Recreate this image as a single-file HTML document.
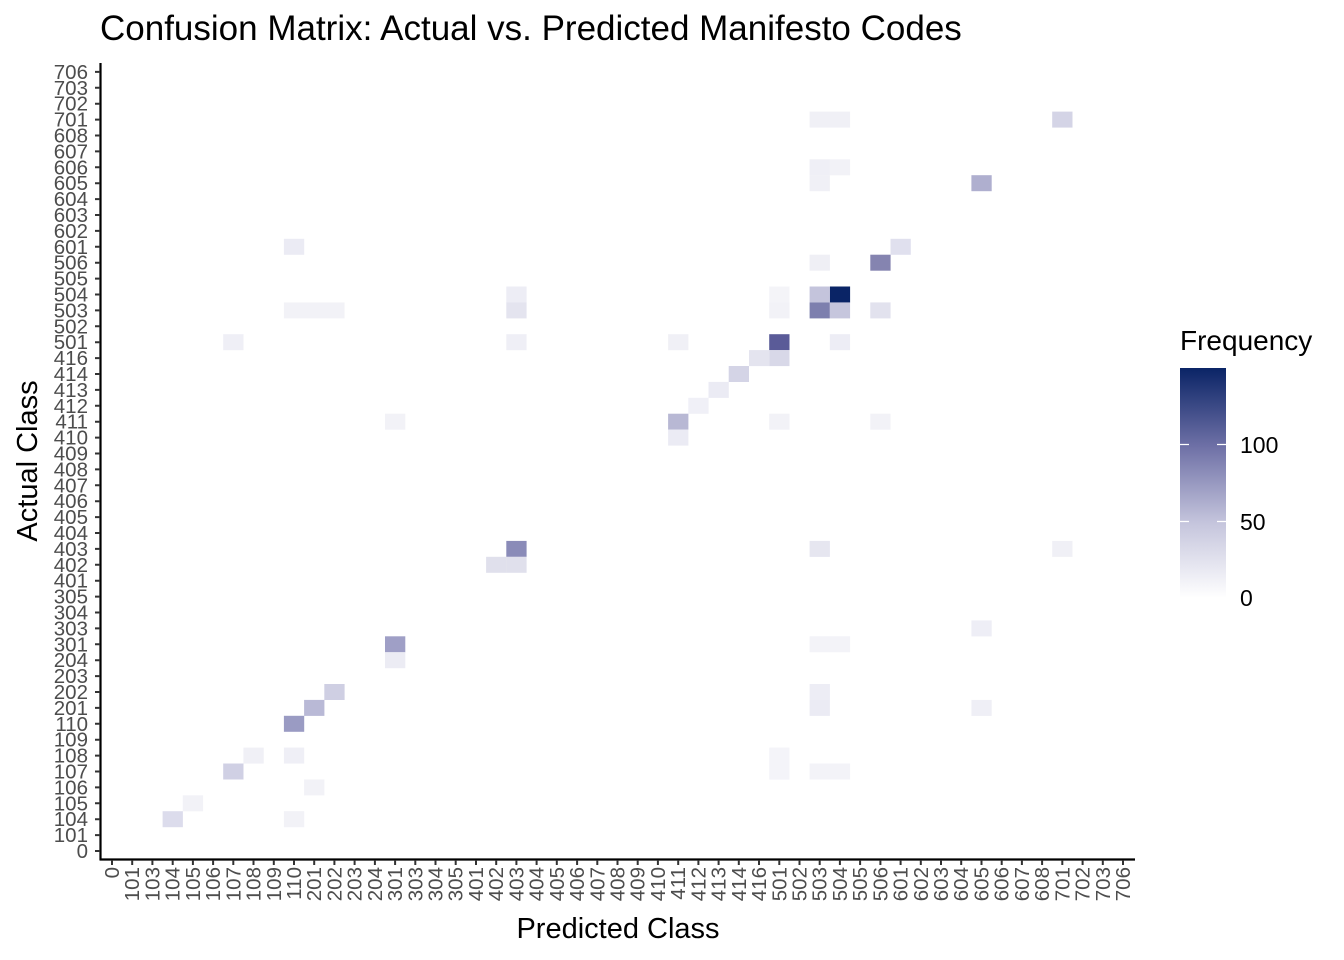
<!DOCTYPE html>
<html><head><meta charset="utf-8"><style>
html,body{margin:0;padding:0;background:#fff;}
svg{display:block;font-family:"Liberation Sans",sans-serif;}
.yl{font-size:20.5px;fill:#4d4d4d;text-anchor:end;}
.xl{font-size:20.5px;fill:#4d4d4d;text-anchor:end;}
</style></head><body>
<svg width="1344" height="960" viewBox="0 0 1344 960" xmlns="http://www.w3.org/2000/svg">
<defs><linearGradient id="g" x1="0" y1="1" x2="0" y2="0">
<stop offset="0" stop-color="#ffffff"/><stop offset="0.33" stop-color="#c4c4dc"/><stop offset="0.66" stop-color="#6e70a6"/><stop offset="1" stop-color="#0a2466"/></linearGradient></defs>
<text x="100" y="40" font-size="35" fill="#000">Confusion Matrix: Actual vs. Predicted Manifesto Codes</text>
<g stroke="none">
<rect x="829.8" y="286.5" width="20.3" height="16" fill="#0a2466"/>
<rect x="809.6" y="302.4" width="20.3" height="16" fill="#7d7fae"/>
<rect x="829.8" y="302.4" width="20.3" height="16" fill="#c6c6dd"/>
<rect x="809.6" y="286.5" width="20.3" height="16" fill="#c4c4dc"/>
<rect x="870.3" y="254.7" width="20.3" height="16" fill="#8584b0"/>
<rect x="769.2" y="334.2" width="20.3" height="16" fill="#5a5b98"/>
<rect x="769.2" y="350.1" width="20.3" height="16" fill="#d8d8e8"/>
<rect x="749" y="350.1" width="20.3" height="16" fill="#e4e4ef"/>
<rect x="728.7" y="366" width="20.3" height="16" fill="#d4d4e6"/>
<rect x="708.5" y="381.9" width="20.3" height="16" fill="#ebebf4"/>
<rect x="688.3" y="397.8" width="20.3" height="16" fill="#f0f0f7"/>
<rect x="668.1" y="413.7" width="20.3" height="16" fill="#b8b8d4"/>
<rect x="668.1" y="429.6" width="20.3" height="16" fill="#ebebf4"/>
<rect x="506.3" y="540.9" width="20.3" height="16" fill="#8a8bb8"/>
<rect x="486.1" y="556.8" width="20.3" height="16" fill="#e0e0ec"/>
<rect x="506.3" y="556.8" width="20.3" height="16" fill="#e0e0ec"/>
<rect x="385" y="636.3" width="20.3" height="16" fill="#9f9fc6"/>
<rect x="385" y="652.2" width="20.3" height="16" fill="#ececf4"/>
<rect x="324.3" y="684" width="20.3" height="16" fill="#cfcfe3"/>
<rect x="304.1" y="699.9" width="20.3" height="16" fill="#b9b9d6"/>
<rect x="283.9" y="715.8" width="20.3" height="16" fill="#9a9bc3"/>
<rect x="223.2" y="763.5" width="20.3" height="16" fill="#d0d0e4"/>
<rect x="162.6" y="811.2" width="20.3" height="16" fill="#dcdcec"/>
<rect x="971.4" y="175.2" width="20.3" height="16" fill="#afafcf"/>
<rect x="1052.2" y="111.6" width="20.3" height="16" fill="#d4d4e6"/>
<rect x="890.5" y="238.8" width="20.3" height="16" fill="#e0e0ee"/>
<rect x="870.3" y="302.4" width="20.3" height="16" fill="#e2e2ee"/>
<rect x="809.6" y="254.7" width="20.3" height="16" fill="#efeff5"/>
<rect x="283.9" y="238.8" width="20.3" height="16" fill="#ebebf4"/>
<rect x="506.3" y="286.5" width="20.3" height="16" fill="#ededf5"/>
<rect x="506.3" y="302.4" width="20.3" height="16" fill="#e4e4ef"/>
<rect x="506.3" y="334.2" width="20.3" height="16" fill="#efeff6"/>
<rect x="809.6" y="540.9" width="20.3" height="16" fill="#e6e6f0"/>
<rect x="223.2" y="334.2" width="20.3" height="16" fill="#efeff6"/>
<rect x="809.6" y="699.9" width="20.3" height="16" fill="#ebebf4"/>
<rect x="809.6" y="684" width="20.3" height="16" fill="#ededf5"/>
<rect x="971.4" y="620.4" width="20.3" height="16" fill="#eeeef6"/>
<rect x="971.4" y="699.9" width="20.3" height="16" fill="#efeff6"/>
<rect x="283.9" y="747.6" width="20.3" height="16" fill="#efeff6"/>
<rect x="243.4" y="747.6" width="20.3" height="16" fill="#f0f0f6"/>
<rect x="304.1" y="779.4" width="20.3" height="16" fill="#f2f2f7"/>
<rect x="182.8" y="795.3" width="20.3" height="16" fill="#f2f2f7"/>
<rect x="809.6" y="111.6" width="40.5" height="16" fill="#f0f0f6"/>
<rect x="809.6" y="175.2" width="20.3" height="16" fill="#f0f0f6"/>
<rect x="809.6" y="159.3" width="20.3" height="16" fill="#efeff6"/>
<rect x="829.8" y="159.3" width="20.3" height="16" fill="#f2f2f7"/>
<rect x="385" y="413.7" width="20.3" height="16" fill="#f2f2f7"/>
<rect x="769.2" y="413.7" width="20.3" height="16" fill="#f2f2f7"/>
<rect x="668.1" y="334.2" width="20.3" height="16" fill="#f0f0f6"/>
<rect x="283.9" y="302.4" width="60.7" height="16" fill="#f2f2f7"/>
<rect x="870.3" y="413.7" width="20.3" height="16" fill="#f2f2f7"/>
<rect x="829.8" y="334.2" width="20.3" height="16" fill="#ededf5"/>
<rect x="769.2" y="302.4" width="20.3" height="16" fill="#f2f2f7"/>
<rect x="769.2" y="286.5" width="20.3" height="16" fill="#f4f4f8"/>
<rect x="1052.2" y="540.9" width="20.3" height="16" fill="#f0f0f6"/>
<rect x="809.6" y="636.3" width="40.5" height="16" fill="#f3f3f8"/>
<rect x="809.6" y="763.5" width="40.5" height="16" fill="#f3f3f8"/>
<rect x="769.2" y="747.6" width="20.3" height="32" fill="#f4f4f9"/>
<rect x="283.9" y="811.2" width="20.3" height="16" fill="#f2f2f7"/>
</g>
<g stroke="#000" stroke-width="2.2" fill="none">
<line x1="100.5" y1="63" x2="100.5" y2="860"/>
<line x1="99.5" y1="859.5" x2="1135" y2="859.5"/>
</g>
<g>
<text class="yl" x="88" y="858">0</text>
<text class="yl" x="88" y="842.1">101</text>
<text class="yl" x="88" y="826.2">104</text>
<text class="yl" x="88" y="810.3">105</text>
<text class="yl" x="88" y="794.4">106</text>
<text class="yl" x="88" y="778.5">107</text>
<text class="yl" x="88" y="762.6">108</text>
<text class="yl" x="88" y="746.7">109</text>
<text class="yl" x="88" y="730.8">110</text>
<text class="yl" x="88" y="714.9">201</text>
<text class="yl" x="88" y="699">202</text>
<text class="yl" x="88" y="683.1">203</text>
<text class="yl" x="88" y="667.2">204</text>
<text class="yl" x="88" y="651.3">301</text>
<text class="yl" x="88" y="635.4">303</text>
<text class="yl" x="88" y="619.5">304</text>
<text class="yl" x="88" y="603.6">305</text>
<text class="yl" x="88" y="587.7">401</text>
<text class="yl" x="88" y="571.8">402</text>
<text class="yl" x="88" y="555.9">403</text>
<text class="yl" x="88" y="540">404</text>
<text class="yl" x="88" y="524.1">405</text>
<text class="yl" x="88" y="508.2">406</text>
<text class="yl" x="88" y="492.3">407</text>
<text class="yl" x="88" y="476.4">408</text>
<text class="yl" x="88" y="460.5">409</text>
<text class="yl" x="88" y="444.6">410</text>
<text class="yl" x="88" y="428.7">411</text>
<text class="yl" x="88" y="412.8">412</text>
<text class="yl" x="88" y="396.9">413</text>
<text class="yl" x="88" y="381">414</text>
<text class="yl" x="88" y="365.1">416</text>
<text class="yl" x="88" y="349.2">501</text>
<text class="yl" x="88" y="333.3">502</text>
<text class="yl" x="88" y="317.4">503</text>
<text class="yl" x="88" y="301.5">504</text>
<text class="yl" x="88" y="285.6">505</text>
<text class="yl" x="88" y="269.7">506</text>
<text class="yl" x="88" y="253.8">601</text>
<text class="yl" x="88" y="237.9">602</text>
<text class="yl" x="88" y="222">603</text>
<text class="yl" x="88" y="206.1">604</text>
<text class="yl" x="88" y="190.2">605</text>
<text class="yl" x="88" y="174.3">606</text>
<text class="yl" x="88" y="158.4">607</text>
<text class="yl" x="88" y="142.5">608</text>
<text class="yl" x="88" y="126.6">701</text>
<text class="yl" x="88" y="110.7">702</text>
<text class="yl" x="88" y="94.8">703</text>
<text class="yl" x="88" y="78.9">706</text>
</g>
<g>
<text class="xl" transform="translate(119,867) rotate(-90)">0</text>
<text class="xl" transform="translate(139.2,867) rotate(-90)">101</text>
<text class="xl" transform="translate(159.4,867) rotate(-90)">103</text>
<text class="xl" transform="translate(179.7,867) rotate(-90)">104</text>
<text class="xl" transform="translate(199.9,867) rotate(-90)">105</text>
<text class="xl" transform="translate(220.1,867) rotate(-90)">106</text>
<text class="xl" transform="translate(240.3,867) rotate(-90)">107</text>
<text class="xl" transform="translate(260.6,867) rotate(-90)">108</text>
<text class="xl" transform="translate(280.8,867) rotate(-90)">109</text>
<text class="xl" transform="translate(301,867) rotate(-90)">110</text>
<text class="xl" transform="translate(321.2,867) rotate(-90)">201</text>
<text class="xl" transform="translate(341.4,867) rotate(-90)">202</text>
<text class="xl" transform="translate(361.6,867) rotate(-90)">203</text>
<text class="xl" transform="translate(381.9,867) rotate(-90)">204</text>
<text class="xl" transform="translate(402.1,867) rotate(-90)">301</text>
<text class="xl" transform="translate(422.3,867) rotate(-90)">303</text>
<text class="xl" transform="translate(442.5,867) rotate(-90)">304</text>
<text class="xl" transform="translate(462.7,867) rotate(-90)">305</text>
<text class="xl" transform="translate(483,867) rotate(-90)">401</text>
<text class="xl" transform="translate(503.2,867) rotate(-90)">402</text>
<text class="xl" transform="translate(523.4,867) rotate(-90)">403</text>
<text class="xl" transform="translate(543.6,867) rotate(-90)">404</text>
<text class="xl" transform="translate(563.8,867) rotate(-90)">405</text>
<text class="xl" transform="translate(584.1,867) rotate(-90)">406</text>
<text class="xl" transform="translate(604.3,867) rotate(-90)">407</text>
<text class="xl" transform="translate(624.5,867) rotate(-90)">408</text>
<text class="xl" transform="translate(644.7,867) rotate(-90)">409</text>
<text class="xl" transform="translate(664.9,867) rotate(-90)">410</text>
<text class="xl" transform="translate(685.2,867) rotate(-90)">411</text>
<text class="xl" transform="translate(705.4,867) rotate(-90)">412</text>
<text class="xl" transform="translate(725.6,867) rotate(-90)">413</text>
<text class="xl" transform="translate(745.8,867) rotate(-90)">414</text>
<text class="xl" transform="translate(766,867) rotate(-90)">416</text>
<text class="xl" transform="translate(786.3,867) rotate(-90)">501</text>
<text class="xl" transform="translate(806.5,867) rotate(-90)">502</text>
<text class="xl" transform="translate(826.7,867) rotate(-90)">503</text>
<text class="xl" transform="translate(846.9,867) rotate(-90)">504</text>
<text class="xl" transform="translate(867.1,867) rotate(-90)">505</text>
<text class="xl" transform="translate(887.4,867) rotate(-90)">506</text>
<text class="xl" transform="translate(907.6,867) rotate(-90)">601</text>
<text class="xl" transform="translate(927.8,867) rotate(-90)">602</text>
<text class="xl" transform="translate(948,867) rotate(-90)">603</text>
<text class="xl" transform="translate(968.2,867) rotate(-90)">604</text>
<text class="xl" transform="translate(988.5,867) rotate(-90)">605</text>
<text class="xl" transform="translate(1008.7,867) rotate(-90)">606</text>
<text class="xl" transform="translate(1028.9,867) rotate(-90)">607</text>
<text class="xl" transform="translate(1049.1,867) rotate(-90)">608</text>
<text class="xl" transform="translate(1069.3,867) rotate(-90)">701</text>
<text class="xl" transform="translate(1089.6,867) rotate(-90)">702</text>
<text class="xl" transform="translate(1109.8,867) rotate(-90)">703</text>
<text class="xl" transform="translate(1130,867) rotate(-90)">706</text>
</g>
<path stroke="#333" stroke-width="2" d="M95 851h5M95 835.1h5M95 819.2h5M95 803.3h5M95 787.4h5M95 771.5h5M95 755.6h5M95 739.7h5M95 723.8h5M95 707.9h5M95 692h5M95 676.1h5M95 660.2h5M95 644.3h5M95 628.4h5M95 612.5h5M95 596.6h5M95 580.7h5M95 564.8h5M95 548.9h5M95 533h5M95 517.1h5M95 501.2h5M95 485.3h5M95 469.4h5M95 453.5h5M95 437.6h5M95 421.7h5M95 405.8h5M95 389.9h5M95 374h5M95 358.1h5M95 342.2h5M95 326.3h5M95 310.4h5M95 294.5h5M95 278.6h5M95 262.7h5M95 246.8h5M95 230.9h5M95 215h5M95 199.1h5M95 183.2h5M95 167.3h5M95 151.4h5M95 135.5h5M95 119.6h5M95 103.7h5M95 87.8h5M95 71.9h5"/>
<path stroke="#333" stroke-width="2" d="M112 860v5M132.2 860v5M152.4 860v5M172.7 860v5M192.9 860v5M213.1 860v5M233.3 860v5M253.5 860v5M273.8 860v5M294 860v5M314.2 860v5M334.4 860v5M354.6 860v5M374.9 860v5M395.1 860v5M415.3 860v5M435.5 860v5M455.7 860v5M476 860v5M496.2 860v5M516.4 860v5M536.6 860v5M556.8 860v5M577.1 860v5M597.3 860v5M617.5 860v5M637.7 860v5M657.9 860v5M678.2 860v5M698.4 860v5M718.6 860v5M738.8 860v5M759 860v5M779.3 860v5M799.5 860v5M819.7 860v5M839.9 860v5M860.1 860v5M880.4 860v5M900.6 860v5M920.8 860v5M941 860v5M961.2 860v5M981.5 860v5M1001.7 860v5M1021.9 860v5M1042.1 860v5M1062.3 860v5M1082.6 860v5M1102.8 860v5M1123 860v5"/>
<text x="618" y="938" font-size="29" text-anchor="middle" fill="#000">Predicted Class</text>
<text transform="translate(37,461) rotate(-90)" font-size="29" text-anchor="middle" fill="#000">Actual Class</text>
<text x="1180" y="350" font-size="28" fill="#000">Frequency</text>
<rect x="1180" y="368" width="46" height="230" fill="url(#g)"/>
<path stroke="#fff" stroke-width="1.3" d="M1180 444.5h9M1217 444.5h9M1180 521.5h9M1217 521.5h9"/>
<text x="1240" y="453" font-size="23" fill="#000">100</text>
<text x="1240" y="530" font-size="23" fill="#000">50</text>
<text x="1240" y="606" font-size="23" fill="#000">0</text>
</svg>
</body></html>
